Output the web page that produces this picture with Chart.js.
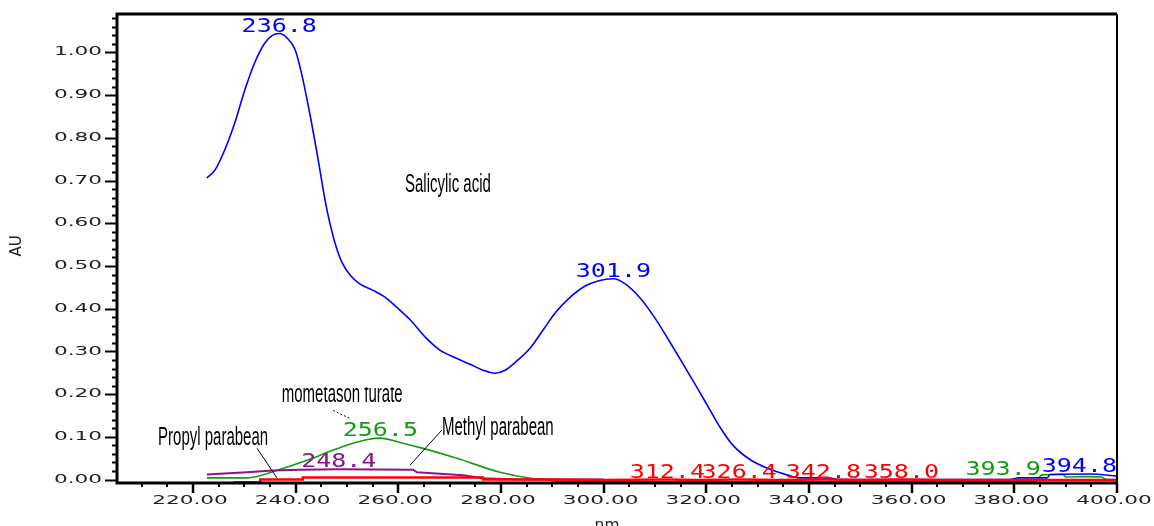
<!DOCTYPE html>
<html>
<head>
<meta charset="utf-8">
<script src="https://cdn.jsdelivr.net/npm/chart.js@4.4.0/dist/chart.umd.min.js"></script>
<style>
  html, body { margin: 0; padding: 0; background: #fff; }
  canvas { display: block; }
</style>
</head>
<body>
<canvas id="chart" width="1154" height="526"></canvas>
<script>
// UV spectra, wavelength (nm) against absorbance (AU)
const salicylicNm = [222.7, 224.3, 226.2, 228.2, 230.1, 232.1, 234.0, 235.4, 236.8, 238.3, 239.9, 241.2, 242.8, 244.4, 245.9, 247.5, 249.0, 250.6, 252.5, 254.9, 257.4, 259.9, 262.3, 265.2, 268.1, 271.1, 274.0, 276.5, 278.8, 280.8, 283.3, 285.7, 288.2, 290.7, 293.5, 296.4, 298.9, 301.9, 304.2, 307.1, 310.0, 312.9, 315.9, 318.8, 320.7, 322.7, 325.2, 328.5, 331.8, 335.7, 338.3, 343.7, 346.1, 379.2, 380.8, 386.4, 387.0, 394.8, 400.0];
const salicylicAu = [0.706, 0.725, 0.772, 0.837, 0.912, 0.978, 1.022, 1.039, 1.044, 1.034, 1.006, 0.948, 0.854, 0.748, 0.643, 0.561, 0.509, 0.479, 0.458, 0.444, 0.427, 0.401, 0.374, 0.334, 0.303, 0.285, 0.270, 0.256, 0.249, 0.256, 0.280, 0.308, 0.350, 0.392, 0.427, 0.453, 0.465, 0.470, 0.458, 0.425, 0.378, 0.322, 0.262, 0.203, 0.163, 0.122, 0.080, 0.047, 0.027, 0.011, 0.004, 0.004, 0.0, 0.0, 0.004, 0.004, 0.012, 0.013, 0.008];

const mometasonNm = [222.7, 230.5, 237.0, 242.2, 247.3, 251.2, 254.1, 256.5, 260.3, 264.8, 271.4, 279.8, 285.7, 288.6, 292.0, 384.0, 385.4, 389.5, 390.0, 393.9, 397.0, 398.0, 400.0];
const mometasonAu = [0.004, 0.004, 0.024, 0.045, 0.069, 0.085, 0.094, 0.097, 0.087, 0.073, 0.050, 0.017, 0.003, 0.0, -0.005, -0.005, 0.011, 0.012, 0.006, 0.007, 0.006, 0.0, 0.0];

const methylNm = [222.7, 230.5, 235.6, 240.9, 248.4, 262.9, 263.6, 272.6, 276.5, 283.1, 300.0];
const methylAu = [0.012, 0.017, 0.021, 0.023, 0.024, 0.023, 0.017, 0.010, 0.003, 0.0, 0.0];

const propylNm = [227.9, 233.1, 233.1, 241.4, 241.4, 276.5, 276.5, 290.0, 300.0, 312.4, 318.0, 326.4, 334.0, 342.8, 350.0, 358.0, 366.0, 400.0];
const propylAu = [-0.006, -0.006, 0.0, 0.0, 0.005, 0.005, 0.0, 0.0, -0.001, 0.0, -0.001, 0.0, -0.001, 0.0, -0.001, 0.0, -0.001, -0.001];

// peak wavelengths marked on each trace
const salicylicPeaks = [236.8, 301.9, 394.8];
const mometasonPeaks = [256.5, 393.9];
const methylPeaks = [248.4];
const propylPeaks = [312.4, 326.4, 342.8, 358.0];

const xTickNm = [220, 240, 260, 280, 300, 320, 340, 360, 380, 400];
const yTickAu = [0.0, 0.1, 0.2, 0.3, 0.4, 0.5, 0.6, 0.7, 0.8, 0.9, 1.0];

const BLUE = '#0000ff', GREEN = '#139b13', PURPLE = '#8b138b', RED = '#ff0000';

function pairs(xs, ys) {
  return xs.map((x, i) => ({ x: x, y: ys[i] }));
}

function peakPoints(xs, ys, peaks, color) {
  return peaks.map(p => ({ nm: p, au: ys[xs.indexOf(p)], color: color }));
}

const peaks = [].concat(
  peakPoints(salicylicNm, salicylicAu, salicylicPeaks, BLUE),
  peakPoints(mometasonNm, mometasonAu, mometasonPeaks, GREEN),
  peakPoints(methylNm, methylAu, methylPeaks, PURPLE),
  peakPoints(propylNm, propylAu, propylPeaks, RED)
);

// name tags with their leader lines, in data units
const notes = [
  { text: 'Salicylic acid',   nm: 261.3, au: 0.673 },
  { text: 'mometason furate', nm: 237.3, au: 0.181, clipAu: 0.216, line: [247.3, 0.162, 250.6, 0.143], dash: [2, 2] },
  { text: 'Propyl parabean',  nm: 213.2, au: 0.080, line: [232.5, 0.073, 236.4, 0.003] },
  { text: 'Methyl parabean',  nm: 268.5, au: 0.104, line: [268.5, 0.116, 262.3, 0.034] }
];

function drawText(ctx, text, x, y, sx, align, baseline) {
  ctx.save();
  ctx.translate(x, y);
  ctx.scale(sx, 1);
  ctx.textAlign = align;
  ctx.textBaseline = baseline;
  ctx.fillText(text, 0, 0);
  ctx.restore();
}

const spectrumFrame = {
  id: 'spectrumFrame',
  afterDatasetsDraw(chart) {
    const { ctx, chartArea: a } = chart;
    const xs = chart.scales.x, ys = chart.scales.y;
    ctx.save();

    // plot box
    ctx.strokeStyle = '#000';
    ctx.lineWidth = 3;
    ctx.beginPath();
    ctx.moveTo(a.right, a.top);
    ctx.lineTo(a.left, a.top);
    ctx.lineTo(a.left, a.bottom);
    ctx.lineTo(a.right, a.bottom);
    ctx.stroke();
    ctx.lineWidth = 2;
    ctx.beginPath();
    ctx.moveTo(a.right, a.top);
    ctx.lineTo(a.right, a.bottom);
    ctx.stroke();

    // y ticks every 0.02, labelled every 0.1
    ctx.lineWidth = 2;
    for (let k = 0; k <= 108; k += 2) {
      const py = Math.round(ys.getPixelForValue(k / 100)) + 0.5;
      const len = k % 10 === 0 ? 12 : 5;
      ctx.beginPath();
      ctx.moveTo(a.left - len, py);
      ctx.lineTo(a.left, py);
      ctx.stroke();
    }
    // x ticks every 5 nm, labelled every 20 nm
    for (let nm = 210; nm <= 400; nm += 5) {
      const px = Math.round(xs.getPixelForValue(nm));
      const major = nm % 20 === 0;
      ctx.lineWidth = major ? 2.5 : 2;
      ctx.beginPath();
      ctx.moveTo(px, a.bottom);
      ctx.lineTo(px, a.bottom + (major ? 10 : 4));
      ctx.stroke();
    }

    ctx.fillStyle = '#222';
    ctx.font = '12px "DejaVu Sans"';
    yTickAu.forEach(v => {
      drawText(ctx, v.toFixed(2), 102, ys.getPixelForValue(v), 1.8, 'right', 'middle');
    });
    xTickNm.forEach(v => {
      drawText(ctx, v.toFixed(2), xs.getPixelForValue(v) - 3, 501, 1.8, 'center', 'middle');
    });

    // axis titles
    ctx.font = '15px "DejaVu Sans"';
    ctx.save();
    ctx.translate(17, 246);
    ctx.rotate(-Math.PI / 2);
    ctx.textAlign = 'center';
    ctx.textBaseline = 'middle';
    ctx.fillText('AU', 0, 0);
    ctx.restore();
    ctx.font = '14px "DejaVu Sans"';
    drawText(ctx, 'nm', 607, 529, 1.1, 'center', 'alphabetic');

    // peak wavelengths, placed right to left so they do not overlap
    ctx.font = '20px "DejaVu Sans Mono"';
    const sx = 1.25;
    const placed = [];
    peaks.slice().sort((p, q) => q.nm - p.nm).forEach(p => {
      const text = p.nm.toFixed(1);
      const w = ctx.measureText(text).width * sx;
      const base = Math.min(ys.getPixelForValue(p.au) - 2, a.bottom - 4);
      let right = Math.min(xs.getPixelForValue(p.nm) + w / 2, a.right);
      const box = () => ({ l: right - w, r: right, t: base - 15, b: base });
      let hit = true;
      while (hit) {
        hit = false;
        const b = box();
        for (const o of placed) {
          if (b.l < o.r && b.r > o.l && b.t < o.b && b.b > o.t && o.color !== p.color) {
            right = o.l - 1;
            hit = true;
          }
        }
      }
      const b = box();
      placed.push(Object.assign(b, { color: p.color }));
      ctx.fillStyle = p.color;
      drawText(ctx, text, b.l, base, sx, 'left', 'alphabetic');
    });

    // name tags
    ctx.fillStyle = '#000';
    ctx.strokeStyle = '#000';
    ctx.font = '25px "Liberation Sans"';
    notes.forEach(n => {
      const tx = xs.getPixelForValue(n.nm), ty = ys.getPixelForValue(n.au);
      ctx.save();
      if (n.clipAu !== undefined) {
        const cy = ys.getPixelForValue(n.clipAu);
        ctx.beginPath();
        ctx.rect(tx - 5, cy, 300, 60);
        ctx.clip();
      }
      drawText(ctx, n.text, tx, ty, 0.6, 'left', 'alphabetic');
      ctx.restore();
      if (n.line) {
        ctx.save();
        ctx.lineWidth = 1;
        ctx.setLineDash(n.dash || []);
        ctx.beginPath();
        ctx.moveTo(xs.getPixelForValue(n.line[0]), ys.getPixelForValue(n.line[1]));
        ctx.lineTo(xs.getPixelForValue(n.line[2]), ys.getPixelForValue(n.line[3]));
        ctx.stroke();
        ctx.restore();
      }
    });

    ctx.restore();
  }
};

new Chart(document.getElementById('chart'), {
  type: 'line',
  data: {
    datasets: [
      { label: 'Propyl paraben', data: pairs(propylNm, propylAu), borderColor: RED, borderWidth: 2.5, tension: 0 },
      { label: 'Salicylic acid', data: pairs(salicylicNm, salicylicAu), borderColor: BLUE, borderWidth: 1.6, cubicInterpolationMode: 'monotone' },
      { label: 'Methyl paraben', data: pairs(methylNm, methylAu), borderColor: PURPLE, borderWidth: 2, tension: 0 },
      { label: 'Mometasone furoate', data: pairs(mometasonNm, mometasonAu), borderColor: GREEN, borderWidth: 1.6, cubicInterpolationMode: 'monotone' }
    ]
  },
  options: {
    responsive: false,
    animation: false,
    events: [],
    layout: { padding: { left: 117, top: 14, right: 37, bottom: 43 } },
    elements: { point: { radius: 0 } },
    plugins: {
      legend: { display: false },
      tooltip: { enabled: false }
    },
    scales: {
      x: { type: 'linear', display: false, min: 205.2, max: 400 },
      y: { type: 'linear', display: false, min: -0.008, max: 1.0898 }
    }
  },
  plugins: [spectrumFrame]
});
</script>
</body>
</html>
